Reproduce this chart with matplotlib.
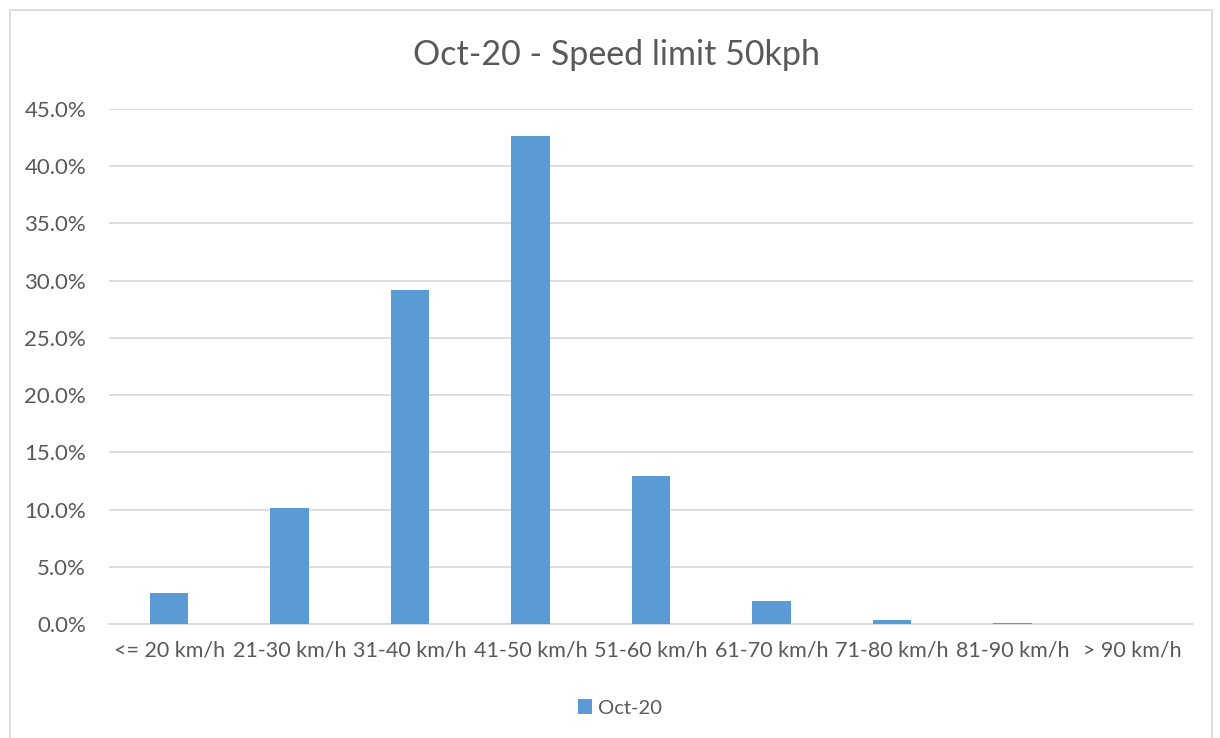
import matplotlib.pyplot as plt
from matplotlib.patches import Rectangle
from matplotlib.ticker import FuncFormatter, MultipleLocator

categories = ['<= 20 km/h', '21-30 km/h', '31-40 km/h', '41-50 km/h', '51-60 km/h',
              '61-70 km/h', '71-80 km/h', '81-90 km/h', '> 90 km/h']
oct20 = [2.7, 10.15, 29.2, 42.65, 12.9, 2.0, 0.35, 0.06, 0.0]

plt.rcParams['font.family'] = ['Lato', 'DejaVu Sans']
text_col = '#595959'
bar_col = '#5b9bd5'

fig = plt.figure(figsize=(12.2, 7.38), dpi=100)
# chart frame
fig.patches.append(Rectangle((10 / 1220, -0.01), 1202 / 1220, 1 - 10 / 738 + 0.01,
                             transform=fig.transFigure, fill=False,
                             edgecolor='#d9d9d9', linewidth=1.2))

ax = fig.add_axes([109 / 1220, 114 / 738, 1084 / 1220, 515 / 738])
x = range(len(categories))
ax.bar(x, oct20, width=0.32, color=bar_col, label='Oct-20', zorder=3)

ax.set_xlim(-0.5, len(categories) - 0.5)
ax.set_ylim(0, 45)
ax.yaxis.set_major_locator(MultipleLocator(5))
ax.yaxis.set_major_formatter(FuncFormatter(lambda v, p: f'{v:.1f}%'))
ax.grid(axis='y', color='#d9d9d9', linewidth=1.2, zorder=0)
for s in ['top', 'right', 'left']:
    ax.spines[s].set_visible(False)
ax.spines['bottom'].set_color('#d9d9d9')
ax.spines['bottom'].set_linewidth(1.2)
ax.set_xticks(list(x))
ax.set_xticklabels(categories)
ax.tick_params(axis='x', length=0, labelsize=15.5, colors=text_col, pad=12)
ax.tick_params(axis='y', length=0, labelsize=16, colors=text_col, pad=16.5)

fig.text(616 / 1220, 1 - 55 / 738, 'Oct-20 - Speed limit 50kph', ha='center', va='center',
         fontsize=24.5, color=text_col)

fig.legend(loc='center', bbox_to_anchor=(620 / 1220, 1 - 708 / 738), frameon=False,
           fontsize=14.5, labelcolor=text_col, handlelength=0.7, handleheight=0.7,
           handletextpad=0.3)

fig.savefig('out.png', dpi=100)
